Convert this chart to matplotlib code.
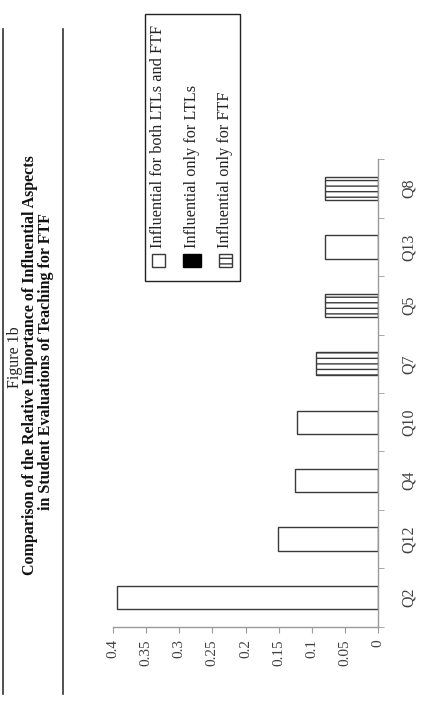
import matplotlib
matplotlib.use("Agg")
import matplotlib.pyplot as plt
from matplotlib.patches import Rectangle
from matplotlib.lines import Line2D

# ---- data ----
categories = ['Q2', 'Q12', 'Q4', 'Q10', 'Q7', 'Q5', 'Q13', 'Q8']
values = [0.394, 0.151, 0.126, 0.123, 0.094, 0.081, 0.081, 0.080]
groups = ['both', 'both', 'both', 'both', 'ftf', 'ftf', 'both', 'ftf']
series_labels = ['Influential for both LTLs and FTF',
                 'Influential only for LTLs',
                 'Influential only for FTF']
value_ticks = [0, 0.05, 0.1, 0.15, 0.2, 0.25, 0.3, 0.35, 0.4]
value_tick_labels = ['0', '0.05', '0.1', '0.15', '0.2', '0.25', '0.3', '0.35', '0.4']
title_lines = ['Figure 1b',
               'Comparison of the Relative Importance of Influential Aspects',
               'in Student Evaluations of Teaching for FTF']

W, H = 423, 719
plt.rcParams['font.family'] = ['Liberation Serif', 'DejaVu Serif']
plt.rcParams['hatch.linewidth'] = 1.0

fig = plt.figure(figsize=(W / 100, H / 100), dpi=100)

def fx(x):
    return x / W

def fy(y):
    return 1 - y / H

EDGE = '#3a3a3a'
AXC = '#9a9a9a'
TXT = '#404040'

styles = {
    'both': dict(facecolor='white', edgecolor=EDGE, hatch=None),
    'ltl': dict(facecolor='black', edgecolor='black', hatch=None),
    'ftf': dict(facecolor='white', edgecolor=EDGE, hatch='---'),
}

ax = fig.add_axes([fx(112.7), fy(626.7), fx(378.3) - fx(112.7), fy(159.3) - fy(626.7)])
pos = list(range(len(categories)))
for p, v, g in zip(pos, values, groups):
    st = styles[g]
    ax.barh(p, v, height=0.4, facecolor=st['facecolor'], edgecolor=st['edgecolor'],
            hatch=st['hatch'], linewidth=1.0)

ax.set_xlim(0.4, 0)
ax.set_ylim(-0.5, len(categories) - 0.5)
for s in ['top', 'left']:
    ax.spines[s].set_visible(False)
for s in ['bottom', 'right']:
    ax.spines[s].set_color(AXC)
    ax.spines[s].set_linewidth(1.0)

ax.set_xticks(value_ticks)
ax.set_xticklabels(value_tick_labels, rotation=90, fontsize=11, color=TXT)
ax.tick_params(axis='x', direction='out', length=4, color=AXC, pad=5)

ax.yaxis.tick_right()
ax.set_yticks(pos)
ax.set_yticklabels(categories, rotation=90, fontsize=11.5, color=TXT, va='center')
ax.set_yticks([p - 0.5 for p in pos] + [len(categories) - 0.5], minor=True)
ax.tick_params(axis='y', which='major', length=0, pad=16)
ax.tick_params(axis='y', which='minor', direction='out', length=4, color=AXC)
ax.tick_params(axis='y', which='both', left=False)
ax.set_facecolor('none')

# ---- legend (rotated) ----
fig.patches.append(Rectangle((fx(145), fy(281)), fx(240) - fx(145), fy(14) - fy(281),
                             transform=fig.transFigure, facecolor='white',
                             edgecolor='#222222', linewidth=1.0, zorder=1))
leg_keys = ['both', 'ltl', 'ftf']
leg_x = [158, 192, 225]
for key, lx, lab in zip(leg_keys, leg_x, series_labels):
    st = styles[key]
    w = 13 if key != 'ltl' else 18
    fig.patches.append(Rectangle((fx(lx - w / 2), fy(267)), fx(w), fy(254) - fy(267),
                                 transform=fig.transFigure, facecolor=st['facecolor'],
                                 edgecolor=st['edgecolor'], hatch=st['hatch'],
                                 linewidth=1.0, zorder=2))
    fig.text(fx(lx), fy(248), lab, rotation=90, rotation_mode='anchor',
             ha='left', va='center', fontsize=11.7, color='#222222', zorder=3)

# ---- title block ----
fig.text(fx(15), fy(357), title_lines[0], rotation=90, rotation_mode='anchor',
         ha='center', va='center', fontsize=11.5, color='#222222')
fig.text(fx(30.5), fy(365), title_lines[1], rotation=90, rotation_mode='anchor',
         ha='center', va='center', fontsize=11.5, fontweight='bold', color='#111111')
fig.text(fx(46), fy(362), title_lines[2], rotation=90, rotation_mode='anchor',
         ha='center', va='center', fontsize=11.5, fontweight='bold', color='#111111')

for xl in [2.7, 62.5]:
    fig.add_artist(Line2D([fx(xl), fx(xl)], [fy(29), fy(694)], transform=fig.transFigure,
                          color='#333333', linewidth=1.2))

fig.savefig('out.png', dpi=100)
